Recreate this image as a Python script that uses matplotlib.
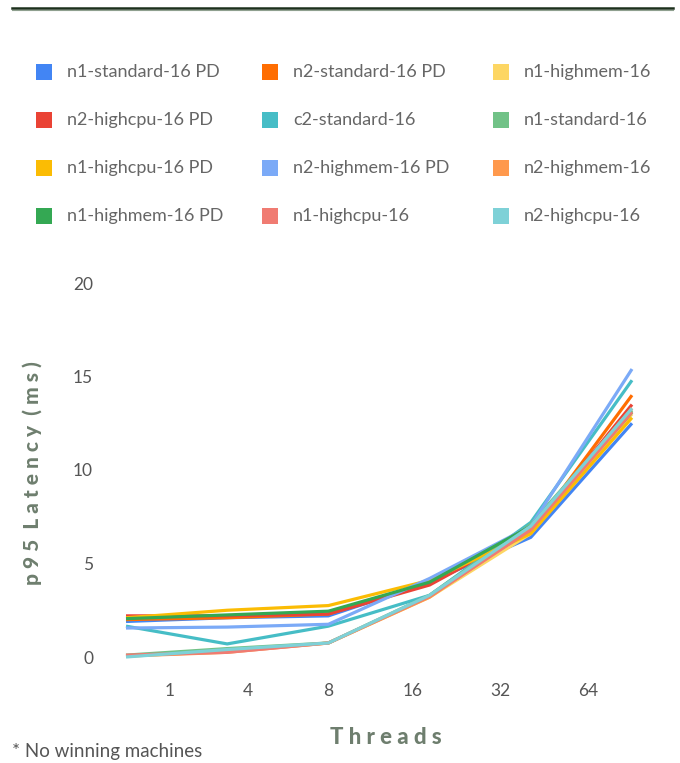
import matplotlib
matplotlib.use("Agg")
import matplotlib.pyplot as plt
from matplotlib.lines import Line2D
from matplotlib.patches import Rectangle

plt.rcParams["font.family"] = ["Lato", "DejaVu Sans"]

# data
thread_labels = ["1", "4", "8", "16", "32", "64"]
series_names = [
    "n1-standard-16 PD", "n2-standard-16 PD", "n1-highmem-16",
    "n2-highcpu-16 PD", "c2-standard-16", "n1-standard-16",
    "n1-highcpu-16 PD", "n2-highmem-16 PD", "n2-highmem-16",
    "n1-highmem-16 PD", "n1-highcpu-16", "n2-highcpu-16",
]
n1_standard_pd = [1.9, 2.1, 2.2, 4.0, 6.4, 12.5]
n2_standard_pd = [2.0, 2.1, 2.3, 4.0, 6.7, 14.0]
n1_highmem = [0.05, 0.3, 0.75, 3.2, 6.6, 13.0]
n2_highcpu_pd = [2.2, 2.2, 2.3, 3.85, 6.8, 13.5]
c2_standard = [1.65, 0.7, 1.65, 3.3, 7.2, 14.8]
n1_standard = [0.1, 0.45, 0.75, 3.3, 7.1, 13.2]
n1_highcpu_pd = [2.1, 2.5, 2.75, 4.1, 6.6, 12.8]
n2_highmem_pd = [1.55, 1.6, 1.75, 4.2, 7.0, 15.4]
n2_highmem = [0.05, 0.25, 0.75, 3.2, 6.9, 13.3]
n1_highmem_pd = [2.05, 2.25, 2.45, 4.0, 7.0, 13.1]
n1_highcpu = [0.1, 0.25, 0.75, 3.25, 6.8, 13.1]
n2_highcpu = [0.0, 0.4, 0.75, 3.3, 7.0, 13.3]

series_values = [
    n1_standard_pd, n2_standard_pd, n1_highmem,
    n2_highcpu_pd, c2_standard, n1_standard,
    n1_highcpu_pd, n2_highmem_pd, n2_highmem,
    n1_highmem_pd, n1_highcpu, n2_highcpu,
]
colors = [
    "#4285F4", "#FF6D01", "#FDD663",
    "#EA4335", "#46BDC6", "#71C287",
    "#FBBC04", "#7BAAF7", "#FF994D",
    "#34A853", "#F07B72", "#7ED1D7",
]

W, H = 680, 763
fig = plt.figure(figsize=(W / 100, H / 100), dpi=100)

# top rule
fig.add_artist(Line2D([12 / W, 673 / W], [1 - 8 / H, 1 - 8 / H], color="#1c301c", lw=1.8))
fig.add_artist(Line2D([12 / W, 673 / W], [1 - 10 / H, 1 - 10 / H], color="#8fa08f", lw=0.8))

# legend, 3 columns row-major
col_x = [36, 262, 493]
row_y = [72, 120, 168, 216]
for i, (name, c) in enumerate(zip(series_names, colors)):
    r, k = divmod(i, 3)
    x, y = col_x[k], row_y[r]
    fig.add_artist(Rectangle((x / W, 1 - (y + 8) / H), 16 / W, 16 / H,
                             transform=fig.transFigure, color=c, lw=0))
    fig.text((x + 31) / W, 1 - y / H, name, fontsize=13, color="#666666",
             va="center", ha="left")

ax = fig.add_axes([100 / W, 1 - 670 / H, 560 / W, (670 - 283) / H])
xs = list(range(len(thread_labels)))
for vals, c in zip(series_values, colors):
    ax.plot(xs, vals, color=c, lw=2.3, solid_capstyle="butt")

ax.set_xlim(-26 / 101.2, 5 + 28 / 101.2)
ax.set_ylim(-13 / 18.7, 20)
ax.set_yticks([0, 5, 10, 15, 20])
tick_px = [170, 248, 328, 413, 500, 588]
ax.set_xticks([(p - 126) / 101.2 for p in tick_px])
ax.set_xticklabels(thread_labels)
ax.tick_params(length=0, labelsize=12.5, labelcolor="#555555")
ax.tick_params(axis="y", pad=5)
ax.tick_params(axis="x", pad=9)
for s in ax.spines.values():
    s.set_visible(False)

fig.text(386 / W, 1 - 737 / H, "T h r e a d s", fontsize=16, fontweight=900,
         color="#6e7e6e", ha="center", va="center")
fig.text(32 / W, 1 - 473 / H, "p 9 5  L a t e n c y  ( m s )", fontsize=15,
         fontweight=900, color="#6e7e6e", ha="center", va="center", rotation=90)
fig.text(12 / W, 1 - 752 / H, "* No winning machines", fontsize=13.5,
         color="#555555", ha="left", va="center")

fig.savefig("out.png", dpi=100)
